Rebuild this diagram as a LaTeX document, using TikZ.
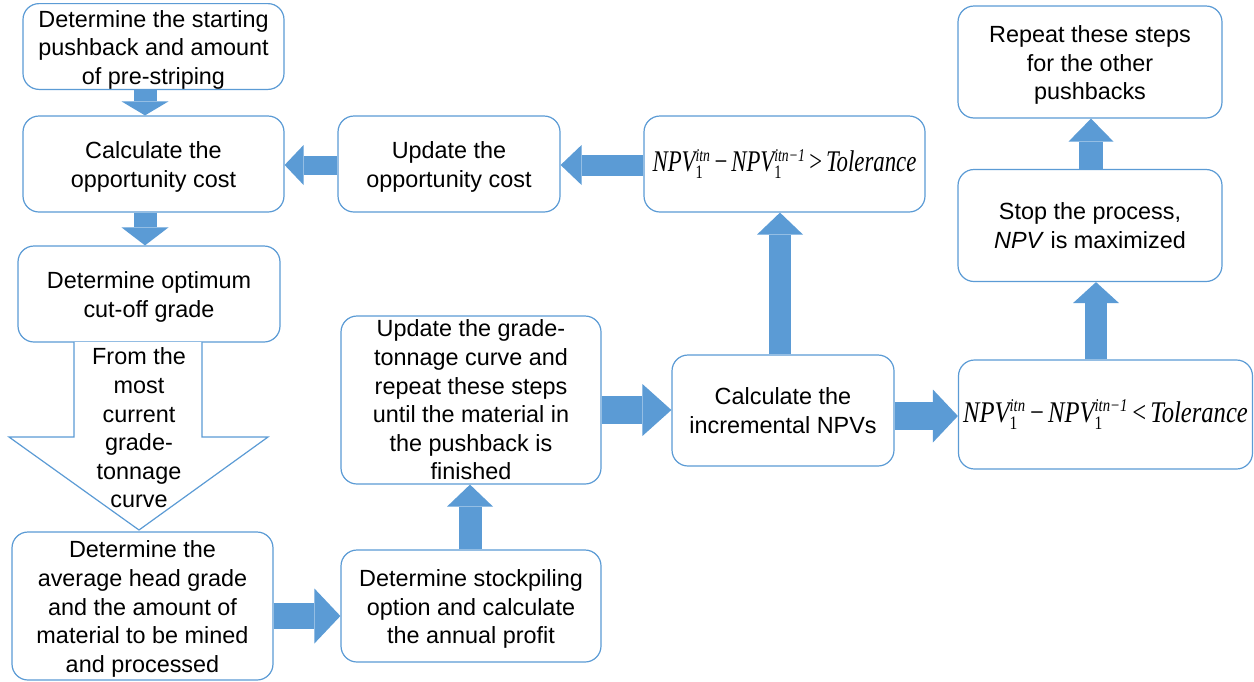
\documentclass[tikz,border=0pt]{standalone}
\usepackage{fontspec}
\usepackage{graphicx}
\setmainfont{Liberation Sans}
\newfontfamily\tnr{Liberation Serif}
\usetikzlibrary{arrows.meta}
\definecolor{bcol}{HTML}{5B9BD5}
\definecolor{acol}{HTML}{5B9BD5}
\newcommand{\NPVs}[1]{{\itshape NPV}$^{\hbox{\fontsize{9}{9}\selectfont\itshape #1}}_{\hbox{\fontsize{9.5}{9.5}\selectfont 1}}$}
\newcommand{\formula}[2]{\scalebox{#2}[1]{\tnr\fontsize{15}{17}\selectfont \NPVs{itn}\,−\,\NPVs{itn−1}\,#1\,{\itshape Tolerance}}}
\newcommand{\lo}[1]{\raisebox{-1.7pt}[\height][\depth]{\begin{tabular}{@{}c@{}}#1\end{tabular}}}
\tikzset{
  box/.style={draw=bcol, line width=0.6pt, rounded corners=8pt, fill=white, align=center, inner sep=0pt,
    font=\fontsize{11.7}{14.3}\selectfont},
  arr/.style n args={3}{draw=acol, line width=#1, -{Triangle[width=#2,length=#3,line width=0pt]}},
  hollow/.style={draw=bcol, line width=0.6pt, fill=white},
}
\begin{document}
\begin{tikzpicture}[x=0.5pt,y=-0.5pt]
\useasboundingbox (0,0) rectangle (1254,681);
% boxes
\node[box, minimum width=130.5pt, minimum height=41.5pt] (A) at (153.5,46.5) {\lo{Determine the starting\\pushback and amount\\of pre-striping}};
\node[box, minimum width=130.5pt, minimum height=48pt] (B) at (153.5,164) {\lo{Calculate the\\opportunity cost}};
\node[box, minimum width=131pt, minimum height=48pt] (C) at (149,294) {\lo{Determine optimum\\cut-off grade}};
\node[box, minimum width=130.5pt, minimum height=74pt] (D) at (142.5,606) {\lo{Determine the\\average head grade\\and the amount of\\material to be mined\\and processed}};
\node[box, minimum width=130pt, minimum height=56pt] (E) at (471,606) {\lo{Determine stockpiling\\option and calculate\\the annual profit}};
\node[box, minimum width=130pt, minimum height=84pt] (F) at (471,400) {Update the grade-\\tonnage curve and\\repeat these steps\\until the material in\\the pushback is\\finished};
\node[box, minimum width=111pt, minimum height=55.5pt] (G) at (783,410.5) {Calculate the\\incremental NPVs};
\node[box, minimum width=140.5pt, minimum height=48pt] (H) at (784.5,164) {\formula{>}{0.76}};
\node[box, minimum width=111pt, minimum height=48pt] (I) at (449,164) {\lo{Update the\\opportunity cost}};
\node[box, minimum width=147pt, minimum height=54.5pt] (J) at (1105.5,414.5) {\formula{<}{0.82}};
\node[box, minimum width=132pt, minimum height=56pt] (K) at (1090,225.5) {Stop the process,\\\textit{NPV} is maximized};
\node[box, minimum width=132pt, minimum height=56pt] (L) at (1090,62) {\lo{Repeat these steps\\for the other\\pushbacks}};
% hollow big arrow
\draw[hollow] (74,342) -- (74,437) -- (9,437) -- (139,530) -- (268,437) -- (202,437) -- (202,342);
\node[align=center, inner sep=0pt, font=\fontsize{11.7}{14.3}\selectfont] (T) at (139,428) {From the\\most\\current\\grade-\\tonnage\\curve};
% arrow columns
\coordinate (xa) at (145,0);
\coordinate (xg) at (780,0);
\coordinate (xe) at (470,0);
\coordinate (xj) at (1096,0);
\coordinate (xk) at (1091,0);
\coordinate (yi) at (0,165);
\coordinate (yd) at (0,616);
\coordinate (yf) at (0,410);
\coordinate (yj) at (0,416);
\draw[arr={11.5pt}{23.5pt}{7pt}] (A.south -| xa) -- (B.north -| xa);
\draw[arr={11.5pt}{23.5pt}{9pt}] (B.south -| xa) -- (C.north -| xa);
\draw[arr={9.5pt}{20pt}{9.5pt}] (I.west |- yi) -- (B.east |- yi);
\draw[arr={10.5pt}{20pt}{10.5pt}] (H.west |- yi) -- (I.east |- yi);
\draw[arr={11pt}{23pt}{11pt}] (G.north -| xg) -- (H.south -| xg);
\draw[arr={11.5pt}{23pt}{11pt}] (E.north -| xe) -- (F.south -| xe);
\draw[arr={11pt}{23pt}{10.5pt}] (J.north -| xj) -- (K.south -| xj);
\draw[arr={12pt}{22.5pt}{11.5pt}] (K.north -| xk) -- (L.south -| xk);
\draw[arr={13pt}{27.5pt}{13pt}] (D.east |- yd) -- (E.west |- yd);
\draw[arr={14pt}{26pt}{14.5pt}] (F.east |- yf) -- (G.west |- yf);
\draw[arr={14pt}{26.5pt}{12.5pt}] (G.east |- yj) -- (J.west |- yj);
\end{tikzpicture}
\end{document}
